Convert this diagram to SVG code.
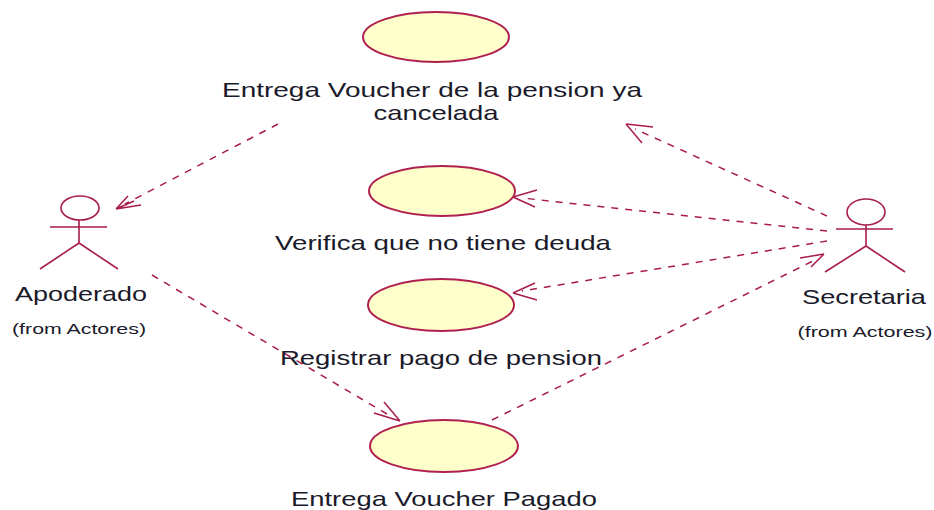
<svg xmlns="http://www.w3.org/2000/svg" width="934" height="510" viewBox="0 0 934 510">
<style>
.uc{fill:#ffffcc;stroke:#b0204f;stroke-width:2}
.a{fill:none;stroke:#a81c4c;stroke-width:1.6}
.c{fill:none;stroke:#a81c4c;stroke-width:1.5;stroke-dasharray:7 7}
.h{fill:none;stroke:#a81c4c;stroke-width:1.5}
text{font-family:"Liberation Sans",Arial,sans-serif;fill:#1a1a2a;text-anchor:middle;font-size:21px}
.s{font-size:14px}
</style>
<rect width="934" height="510" fill="#fff"/>
<g id="connectors">
<path class="c" d="M278 124L125 204"/><path class="h" d="M116 209L128 196M116 209L141 205M116 209L134 201"/>
<path class="c" d="M152 275L392 417"/><path class="h" d="M400 421L374 413M400 421L384 402"/>
<path class="c" d="M827 216L635 129"/><path class="h" d="M626 124L653 127M626 124L642 143"/>
<path class="c" d="M827 231L522 198"/><path class="h" d="M513 197L537 190M513 197L535 207"/>
<path class="c" d="M827 241L522 291"/><path class="h" d="M513 293L535 283M513 293L537 300"/>
<path class="c" d="M492 420L815 260"/><path class="h" d="M824 254L800 258M824 254L811 267"/>
</g>
<g id="uc1"><ellipse class="uc" cx="436" cy="37" rx="73" ry="25"/><text x="432" y="97" textLength="420" lengthAdjust="spacingAndGlyphs">Entrega Voucher de la pension  ya</text><text x="436" y="120" textLength="125" lengthAdjust="spacingAndGlyphs">cancelada</text></g>
<g id="uc2"><ellipse class="uc" cx="442" cy="191" rx="73" ry="25"/><text x="443" y="250" textLength="336" lengthAdjust="spacingAndGlyphs">Verifica que no tiene deuda</text></g>
<g id="uc3"><ellipse class="uc" cx="441" cy="305" rx="73" ry="26"/><text x="441" y="365" textLength="322" lengthAdjust="spacingAndGlyphs">Registrar pago de pension</text></g>
<g id="uc4"><ellipse class="uc" cx="444" cy="446" rx="74" ry="26"/><text x="444" y="506" textLength="306" lengthAdjust="spacingAndGlyphs">Entrega Voucher Pagado</text></g>
<g id="apoderado"><ellipse class="a" cx="80" cy="208" rx="19" ry="12"/><path class="a" d="M79 220V243M50 227H107M79 243L40 269M79 243L118 269"/><text x="81" y="301" textLength="132" lengthAdjust="spacingAndGlyphs">Apoderado</text><text class="s" x="79" y="334" textLength="134" lengthAdjust="spacingAndGlyphs">(from Actores)</text></g>
<g id="secretaria"><ellipse class="a" cx="866" cy="212" rx="19" ry="13"/><path class="a" d="M866 225V246M836 229H893M866 246L825 272M866 246L905 272"/><text x="864" y="304" textLength="124" lengthAdjust="spacingAndGlyphs">Secretaria</text><text class="s" x="865" y="337" textLength="135" lengthAdjust="spacingAndGlyphs">(from Actores)</text></g>
</svg>
